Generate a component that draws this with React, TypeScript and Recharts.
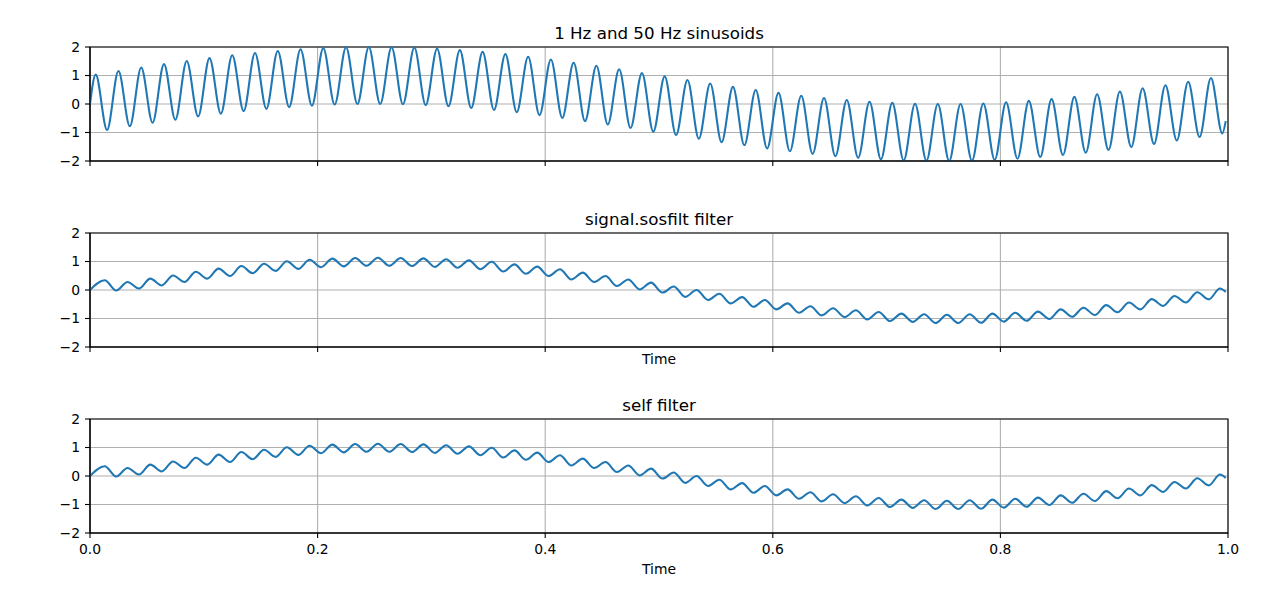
import { LineChart, Line, XAxis, YAxis, CartesianGrid, ReferenceArea } from 'recharts'

// x positions (s) of the samples: start, each crest / trough, last sample
const rawTimes = [
  0,
  0.005, 0.015, 0.025, 0.035, 0.045, 0.055, 0.065, 0.075, 0.085, 0.095,
  0.105, 0.115, 0.125, 0.135, 0.145, 0.155, 0.165, 0.175, 0.185, 0.195,
  0.205, 0.215, 0.225, 0.235, 0.245, 0.255, 0.265, 0.275, 0.285, 0.295,
  0.305, 0.315, 0.325, 0.335, 0.345, 0.355, 0.365, 0.375, 0.385, 0.395,
  0.405, 0.415, 0.425, 0.435, 0.445, 0.455, 0.465, 0.475, 0.485, 0.495,
  0.505, 0.515, 0.525, 0.535, 0.545, 0.555, 0.565, 0.575, 0.585, 0.595,
  0.605, 0.615, 0.625, 0.635, 0.645, 0.655, 0.665, 0.675, 0.685, 0.695,
  0.705, 0.715, 0.725, 0.735, 0.745, 0.755, 0.765, 0.775, 0.785, 0.795,
  0.805, 0.815, 0.825, 0.835, 0.845, 0.855, 0.865, 0.875, 0.885, 0.895,
  0.905, 0.915, 0.925, 0.935, 0.945, 0.955, 0.965, 0.975, 0.985, 0.995,
  0.998,
]

const rawValues = [
  0,
  1.03, -0.91, 1.16, -0.78, 1.28, -0.66, 1.4, -0.55, 1.51, -0.44,
  1.61, -0.34, 1.71, -0.25, 1.79, -0.17, 1.86, -0.11, 1.92, -0.06,
  1.96, -0.02, 1.99, 0.0, 2.0, 0.0, 1.99, -0.01, 1.98, -0.04,
  1.94, -0.08, 1.89, -0.14, 1.83, -0.21, 1.75, -0.29, 1.66, -0.39,
  1.56, -0.49, 1.45, -0.6, 1.34, -0.72, 1.22, -0.84, 1.09, -0.97,
  0.97, -1.09, 0.84, -1.22, 0.72, -1.34, 0.6, -1.45, 0.49, -1.56,
  0.39, -1.66, 0.29, -1.75, 0.21, -1.83, 0.14, -1.89, 0.08, -1.94,
  0.04, -1.98, 0.01, -1.99, 0.0, -2.0, 0.0, -1.99, 0.02, -1.96,
  0.06, -1.92, 0.11, -1.86, 0.17, -1.79, 0.25, -1.71, 0.34, -1.61,
  0.44, -1.51, 0.55, -1.4, 0.66, -1.28, 0.78, -1.16, 0.91, -1.03,
  -0.6,
]

const filtTimes = [
  0,
  0.013, 0.023, 0.033, 0.043, 0.053, 0.063, 0.073, 0.083, 0.093, 0.103,
  0.113, 0.123, 0.133, 0.143, 0.153, 0.163, 0.173, 0.183, 0.193, 0.203,
  0.213, 0.223, 0.233, 0.243, 0.253, 0.263, 0.273, 0.283, 0.293, 0.303,
  0.313, 0.323, 0.333, 0.343, 0.353, 0.363, 0.373, 0.383, 0.393, 0.403,
  0.413, 0.423, 0.433, 0.443, 0.453, 0.463, 0.473, 0.483, 0.493, 0.503,
  0.513, 0.523, 0.533, 0.543, 0.553, 0.563, 0.573, 0.583, 0.593, 0.603,
  0.613, 0.623, 0.633, 0.643, 0.653, 0.663, 0.673, 0.683, 0.693, 0.703,
  0.713, 0.723, 0.733, 0.743, 0.753, 0.763, 0.773, 0.783, 0.793, 0.803,
  0.813, 0.823, 0.833, 0.843, 0.853, 0.863, 0.873, 0.883, 0.893, 0.903,
  0.913, 0.923, 0.933, 0.943, 0.953, 0.963, 0.973, 0.983, 0.993,
  0.998,
]

const sosfiltValues = [
  0,
  0.34, -0.02, 0.28, 0.05, 0.4, 0.16, 0.51, 0.28, 0.64, 0.4,
  0.75, 0.49, 0.84, 0.59, 0.92, 0.67, 1.01, 0.74, 1.06, 0.8,
  1.1, 0.83, 1.12, 0.85, 1.13, 0.85, 1.12, 0.84, 1.11, 0.81,
  1.08, 0.78, 1.04, 0.73, 0.99, 0.65, 0.9, 0.57, 0.82, 0.49,
  0.73, 0.37, 0.61, 0.28, 0.49, 0.14, 0.37, 0.02, 0.26, -0.09,
  0.12, -0.24, 0.0, -0.35, -0.13, -0.47, -0.25, -0.59, -0.35, -0.68,
  -0.47, -0.8, -0.57, -0.89, -0.64, -0.95, -0.71, -1.03, -0.77, -1.09,
  -0.83, -1.12, -0.85, -1.16, -0.87, -1.16, -0.85, -1.15, -0.83, -1.11,
  -0.8, -1.08, -0.76, -1.02, -0.68, -0.94, -0.62, -0.88, -0.53, -0.78,
  -0.44, -0.68, -0.32, -0.56, -0.21, -0.44, -0.08, -0.33, 0.05,
  -0.07,
]

// the bottom panel reads identically to the middle one
const selfFilterValues = sosfiltValues

const xTicks = [0, 0.2, 0.4, 0.6, 0.8, 1]
const yTicks = [-2, -1, 0, 1, 2]

const FONT = '"DejaVu Sans", sans-serif'
const BLUE = '#1f77b4'
const AXIS_W = 1.1

const toRows = (times: number[], values: number[]) => times.map((t, i) => ({ t, v: values[i] }))

const fmtY = (v: number) => String(v).replace('-', '\u2212')

interface PanelProps {
  title: string
  rows: { t: number; v: number }[]
  top: number
  height: number
  tickLabels: boolean
  xLabel?: string
}

const Panel = ({ title, rows, top, height, tickLabels, xLabel }: PanelProps) => (
  <div style={{ position: 'absolute', left: 0, top, width: 1280, height }}>
    <div
      style={{
        position: 'absolute',
        left: 90,
        top: 23,
        width: 1138,
        textAlign: 'center',
        fontFamily: FONT,
        fontSize: 16.7,
        lineHeight: '20px',
        color: '#000',
      }}
    >
      {title}
    </div>
    <LineChart width={1280} height={height} data={rows} margin={{ top: 47, right: 52, bottom: height - 186, left: 0 }}>
      <CartesianGrid stroke="#b0b0b0" strokeWidth={AXIS_W} />
      <XAxis
        dataKey="t"
        type="number"
        domain={[0, 1]}
        ticks={xTicks}
        interval={0}
        height={25}
        tickSize={5}
        tickMargin={6}
        tickLine={{ stroke: '#000', strokeWidth: AXIS_W }}
        axisLine={{ stroke: '#000', strokeWidth: AXIS_W }}
        tick={{ fill: '#000', fontSize: 13.9, fontFamily: FONT }}
        tickFormatter={(v: number) => (tickLabels ? v.toFixed(1) : '')}
      />
      <YAxis
        type="number"
        domain={[-2, 2]}
        ticks={yTicks}
        interval={0}
        width={90}
        tickSize={5}
        tickMargin={5}
        tickLine={{ stroke: '#000', strokeWidth: AXIS_W }}
        axisLine={{ stroke: '#000', strokeWidth: AXIS_W }}
        tick={{ fill: '#000', fontSize: 13.9, fontFamily: FONT }}
        tickFormatter={fmtY}
      />
      <Line
        type="monotone"
        dataKey="v"
        stroke={BLUE}
        strokeWidth={2.08}
        dot={false}
        activeDot={false}
        isAnimationActive={false}
      />
      <ReferenceArea x1={0} x2={1} y1={-2} y2={2} fill="none" stroke="#000" strokeWidth={AXIS_W} ifOverflow="visible" />
    </LineChart>
    {xLabel && (
      <div
        style={{
          position: 'absolute',
          left: 90,
          top: tickLabels ? 189 : 165,
          width: 1138,
          textAlign: 'center',
          fontFamily: FONT,
          fontSize: 13.9,
          lineHeight: '17px',
          color: '#000',
        }}
      >
        {xLabel}
      </div>
    )}
  </div>
)

const App = () => (
  <div style={{ position: 'relative', width: 1280, height: 607, background: '#fff', overflow: 'hidden' }}>
    <style>{'body{margin:0}'}</style>
    <Panel title="1 Hz and 50 Hz sinusoids" rows={toRows(rawTimes, rawValues)} top={0} height={186} tickLabels={false} />
    <Panel
      title="signal.sosfilt filter"
      rows={toRows(filtTimes, sosfiltValues)}
      top={186}
      height={186}
      tickLabels={false}
      xLabel="Time"
    />
    <Panel
      title="self filter"
      rows={toRows(filtTimes, selfFilterValues)}
      top={372}
      height={235}
      tickLabels
      xLabel="Time"
    />
  </div>
)

export default App
